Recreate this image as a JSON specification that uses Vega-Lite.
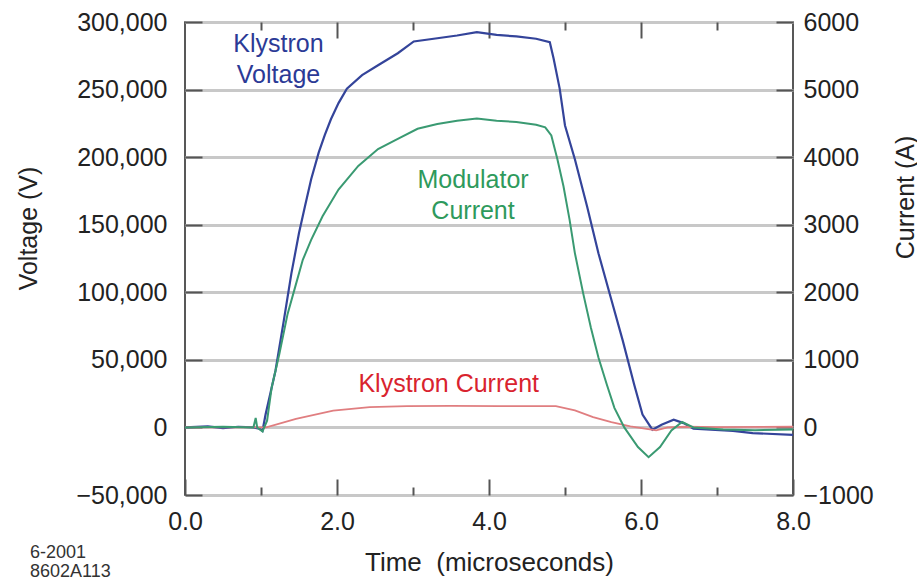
{
  "$schema": "https://vega.github.io/schema/vega-lite/v6.json",
  "autosize": {"type": "none"},
  "width": 608,
  "height": 473,
  "padding": {"left": 185, "top": 22, "right": 124, "bottom": 88},
  "background": "white",
  "config": {
    "view": {"stroke": "#222222", "strokeWidth": 1.5},
    "font": "Liberation Sans",
    "axis": {"labelFont": "Liberation Sans", "titleFont": "Liberation Sans", "labelColor": "#222222", "titleColor": "#222222", "titleFontWeight": "normal", "domain": false, "tickColor": "#555555", "tickWidth": 2, "labelFlush": false}
  },
  "title": {"text": ["6-2001", "8602A113"], "orient": "bottom", "anchor": "start", "frame": "group", "dx": -155, "offset": -31, "fontSize": 18, "fontWeight": "normal", "font": "Liberation Sans", "lineHeight": 19, "color": "#333333"},
  "datasets": {
    "voltage": [
      {"t": 0.0, "v": 0}, {"t": 0.3, "v": 800}, {"t": 0.5, "v": -500}, {"t": 0.7, "v": 500}, {"t": 0.9, "v": 0},
      {"t": 0.98, "v": -1000}, {"t": 1.02, "v": -2500}, {"t": 1.06, "v": 9500}, {"t": 1.19, "v": 41800},
      {"t": 1.30, "v": 79000}, {"t": 1.40, "v": 114000}, {"t": 1.50, "v": 143800}, {"t": 1.58, "v": 164000}, {"t": 1.66, "v": 183600},
      {"t": 1.76, "v": 203500}, {"t": 1.84, "v": 216500}, {"t": 1.92, "v": 228000}, {"t": 2.02, "v": 240000}, {"t": 2.13, "v": 250700}, {"t": 2.33, "v": 260700},
      {"t": 2.54, "v": 268000}, {"t": 2.80, "v": 276900}, {"t": 3.01, "v": 285600}, {"t": 3.32, "v": 288000},
      {"t": 3.58, "v": 290000}, {"t": 3.84, "v": 292500}, {"t": 4.10, "v": 290500}, {"t": 4.36, "v": 289300},
      {"t": 4.62, "v": 287600}, {"t": 4.80, "v": 285000}, {"t": 4.85, "v": 273000}, {"t": 4.93, "v": 250700},
      {"t": 5.00, "v": 223400}, {"t": 5.13, "v": 198500}, {"t": 5.29, "v": 163700}, {"t": 5.44, "v": 128900},
      {"t": 5.60, "v": 96500}, {"t": 5.76, "v": 64200}, {"t": 5.91, "v": 31800}, {"t": 6.02, "v": 9500},
      {"t": 6.15, "v": -1700}, {"t": 6.27, "v": 2000}, {"t": 6.43, "v": 5700}, {"t": 6.56, "v": 3200},
      {"t": 6.69, "v": -1000}, {"t": 7.21, "v": -2500}, {"t": 7.47, "v": -4200}, {"t": 8.0, "v": -5500}
    ],
    "modulator": [
      {"t": 0.0, "a": 0}, {"t": 0.5, "a": 10}, {"t": 0.9, "a": 0}, {"t": 0.93, "a": 140}, {"t": 0.95, "a": 0},
      {"t": 1.02, "a": -60}, {"t": 1.08, "a": 100}, {"t": 1.14, "a": 590}, {"t": 1.24, "a": 1080},
      {"t": 1.35, "a": 1680}, {"t": 1.45, "a": 2080}, {"t": 1.55, "a": 2480}, {"t": 1.66, "a": 2775},
      {"t": 1.81, "a": 3125}, {"t": 2.02, "a": 3520}, {"t": 2.28, "a": 3870}, {"t": 2.54, "a": 4120},
      {"t": 2.80, "a": 4270}, {"t": 3.06, "a": 4420}, {"t": 3.32, "a": 4490}, {"t": 3.58, "a": 4540},
      {"t": 3.84, "a": 4570}, {"t": 4.10, "a": 4540}, {"t": 4.36, "a": 4520}, {"t": 4.62, "a": 4480},
      {"t": 4.74, "a": 4440}, {"t": 4.82, "a": 4320}, {"t": 4.90, "a": 3970}, {"t": 4.98, "a": 3570},
      {"t": 5.06, "a": 3075}, {"t": 5.13, "a": 2580}, {"t": 5.24, "a": 1980}, {"t": 5.34, "a": 1480},
      {"t": 5.44, "a": 1035}, {"t": 5.55, "a": 635}, {"t": 5.65, "a": 290}, {"t": 5.78, "a": 0},
      {"t": 5.96, "a": -290}, {"t": 6.10, "a": -440}, {"t": 6.25, "a": -290}, {"t": 6.40, "a": -45},
      {"t": 6.54, "a": 80}, {"t": 6.69, "a": 0}, {"t": 7.08, "a": -30}, {"t": 7.5, "a": -40}, {"t": 8.0, "a": -30}
    ],
    "klystron": [
      {"t": 0.0, "a": 0}, {"t": 1.07, "a": 0}, {"t": 1.46, "a": 128}, {"t": 1.95, "a": 250},
      {"t": 2.43, "a": 300}, {"t": 2.92, "a": 316}, {"t": 3.5, "a": 318}, {"t": 4.14, "a": 316},
      {"t": 4.88, "a": 316}, {"t": 5.13, "a": 252}, {"t": 5.37, "a": 152}, {"t": 5.61, "a": 78},
      {"t": 5.86, "a": 14}, {"t": 6.20, "a": -44}, {"t": 6.35, "a": 0}, {"t": 6.6, "a": 10},
      {"t": 7.0, "a": 5}, {"t": 8.0, "a": 10}
    ],
    "labels": [
      {"t": 1.23, "v": 283500, "series": "Klystron Voltage", "label": "Klystron\nVoltage"},
      {"t": 3.79, "v": 183100, "series": "Modulator Current", "label": "Modulator\nCurrent"},
      {"t": 3.47, "v": 31800, "series": "Klystron Current", "label": "Klystron Current"}
    ]
  },
  "layer": [
    {
      "data": {"name": "voltage"},
      "mark": {"type": "line", "color": "#34449a", "strokeWidth": 2.2, "clip": true},
      "encoding": {
        "x": {"field": "t", "type": "quantitative", "scale": {"domain": [0, 8], "nice": false, "zero": false},
          "axis": {"orient": "bottom", "values": [0, 2, 4, 6, 8], "format": ".1f", "labelFontSize": 25, "labelPadding": 30, "tickSize": -16, "grid": false,
            "title": "Time \u00a0(microseconds)", "titleFontSize": 26, "titleX": 304, "titleY": 67, "titleBaseline": "middle", "titleAlign": "center"}},
        "y": {"field": "v", "type": "quantitative", "scale": {"domain": [-50000, 300000], "nice": false, "zero": false},
          "axis": {"orient": "left", "values": [-50000, 0, 50000, 100000, 150000, 200000, 250000, 300000], "format": ",d", "labelFontSize": 25, "labelPadding": 35, "tickSize": -17,
            "grid": true, "gridColor": "#c8c8c8", "gridWidth": 3,
            "title": "Voltage (V)", "titleFontSize": 25, "titleAngle": -90, "titleX": -157, "titleY": 206, "titleBaseline": "middle", "titleAlign": "center"}}
      }
    },
    {
      "data": {"name": "klystron"},
      "mark": {"type": "line", "color": "#e07e80", "strokeWidth": 1.8, "clip": true},
      "encoding": {
        "x": {"field": "t", "type": "quantitative", "scale": {"domain": [0, 8], "nice": false, "zero": false},
          "axis": {"orient": "top", "values": [2, 4, 6], "labels": false, "tickSize": -16, "grid": false, "title": null}},
        "y": {"field": "a", "type": "quantitative", "scale": {"domain": [-1000, 6000], "nice": false, "zero": false}, "axis": null}
      }
    },
    {
      "data": {"name": "modulator"},
      "mark": {"type": "line", "color": "#3a9a72", "strokeWidth": 2, "clip": true},
      "encoding": {
        "x": {"field": "t", "type": "quantitative", "scale": {"domain": [0, 8], "nice": false, "zero": false},
          "axis": {"orient": "bottom", "values": [1, 3, 5, 7], "labels": false, "tickSize": -8, "grid": false, "title": null}},
        "y": {"field": "a", "type": "quantitative", "scale": {"domain": [-1000, 6000], "nice": false, "zero": false},
          "axis": {"orient": "right", "values": [-1000, 0, 1000, 2000, 3000, 4000, 5000, 6000], "format": "d", "labelFontSize": 25, "labelPadding": 27, "tickSize": -17, "grid": false,
            "title": "Current (A)", "titleFontSize": 25, "titleAngle": -90, "titleX": 112, "titleY": 175, "titleBaseline": "middle", "titleAlign": "center"}}
      }
    },
    {
      "data": {"name": "labels"},
      "mark": {"type": "text", "fontSize": 25, "font": "Liberation Sans", "align": "center", "baseline": "middle", "lineBreak": "\n", "lineHeight": 31},
      "encoding": {
        "x": {"field": "t", "type": "quantitative", "scale": {"domain": [0, 8], "nice": false, "zero": false},
          "axis": {"orient": "top", "values": [1, 3, 5, 7], "labels": false, "tickSize": -8, "grid": false, "title": null}},
        "y": {"field": "v", "type": "quantitative", "scale": {"domain": [-50000, 300000], "nice": false, "zero": false}, "axis": null},
        "text": {"field": "label"},
        "color": {"field": "series", "type": "nominal", "legend": null,
          "scale": {"domain": ["Klystron Voltage", "Modulator Current", "Klystron Current"], "range": ["#2b3a96", "#2e9a5c", "#d9232e"]}}
      }
    }
  ],
  "resolve": {"scale": {"y": "independent"}, "axis": {"x": "independent", "y": "independent"}}
}
